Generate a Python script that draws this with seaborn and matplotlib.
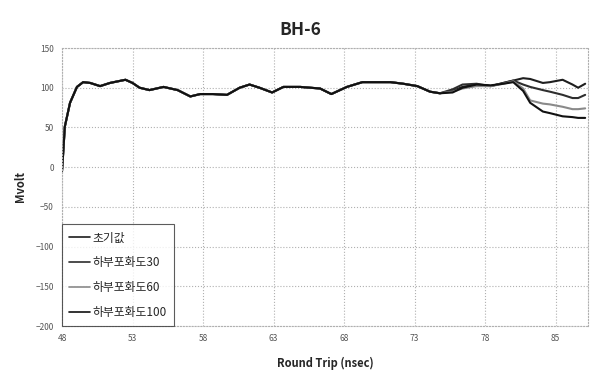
import numpy as np
import pandas as pd
import matplotlib
matplotlib.use("Agg")
import matplotlib.pyplot as plt
import seaborn as sns

# ---- data ----
x_common = [48.0, 48.07, 48.2, 48.57, 49.06, 49.5, 50.0, 50.7, 51.4, 52.5, 53.0, 53.5,
            54.2, 55.2, 56.2, 57.1, 57.8, 58.7, 59.7, 60.6, 61.3, 62.0, 62.9, 63.7,
            64.9, 66.3, 67.1, 68.2, 69.3, 71.3, 72.2, 73.2, 74.1, 74.8, 75.7, 76.4,
            77.4, 78.4, 79.3, 80.0]
y_common = [-5, 14, 51, 81, 101, 107, 106, 102, 106, 110, 106, 100,
            97, 101, 97, 89, 92, 92, 91, 100, 104, 100, 94, 101,
            101, 99, 92, 101, 107, 107, 105, 102, 95, 93, 96, 101,
            104, 102, 106, 109]
x_tail = [80.7, 81.2, 82.1, 82.6, 83.5, 84.2, 84.6, 85.1]
tail_init = [112, 111, 106, 107, 110, 104, 100, 105]
tail_30 = [104, 101, 97, 95, 91, 87, 87, 91]
tail_60 = [99, 84, 80, 79, 76, 73, 73, 74]
tail_100 = [96, 81, 70, 68, 64, 63, 62, 62]

series_names = ["초기값", "하부포화도30", "하부포화도60", "하부포화도100"]
offsets_mid = {"초기값": [0] * len(y_common),
               "하부포화도30": [0] * 34 + [2, 3, 1, 0, 0, 0],
               "하부포화도60": [0] * 34 + [-1, -2, -2, 0, -1, -1],
               "하부포화도100": [0] * 34 + [-2, -1, 0, 1, -1, -2]}
tails = {"초기값": tail_init, "하부포화도30": tail_30,
         "하부포화도60": tail_60, "하부포화도100": tail_100}

xticks = [48, 53, 58, 63, 68, 73, 78, 83]
xtick_labels = ["48", "53", "58", "63", "68", "73", "78", "85"]
yticks = [-200, -150, -100, -50, 0, 50, 100, 150]

rows = []
for name in series_names:
    ys = [a + b for a, b in zip(y_common, offsets_mid[name])] + tails[name]
    for xv, yv in zip(x_common + x_tail, ys):
        rows.append({"x": xv, "y": yv, "series": name})
df = pd.DataFrame(rows)

sns.set_style("white")
plt.rcParams["font.family"] = ["Noto Sans CJK KR", "DejaVu Sans"]

fig = plt.figure(figsize=(5.94, 3.74), dpi=100)
ax = fig.add_axes([62 / 594, 1 - 326 / 374, (588 - 62) / 594, (326 - 48) / 374])

palette = {"초기값": "#1e1e1e", "하부포화도30": "#2e2e2e",
           "하부포화도60": "#8a8a8a", "하부포화도100": "#111111"}
sns.lineplot(data=df, x="x", y="y", hue="series", hue_order=series_names,
             palette=palette, linewidth=1.5, ax=ax, legend=True)

ax.set_xlim(48, 85.3)
ax.set_ylim(-200, 150)
ax.set_xticks(xticks)
ax.set_xticklabels(xtick_labels)
ax.set_yticks(yticks)
ax.tick_params(axis="both", labelsize=6, colors="#555555", length=0, pad=6)
ax.grid(True, which="major", color="#b0b0b0", linestyle=":", linewidth=0.8)
for s in ["top", "right", "left", "bottom"]:
    ax.spines[s].set_visible(True)
    ax.spines[s].set_color("#b0b0b0")
    ax.spines[s].set_linestyle(":")
    ax.spines[s].set_linewidth(0.8)

ax.set_xlabel("Round Trip (nsec)", fontsize=8, fontweight="bold", labelpad=10)
ax.set_ylabel("Mvolt", fontsize=8, fontweight="bold", labelpad=6)
fig.text(0.505, 0.92, "BH-6", ha="center", va="center", fontsize=12.5, fontweight="bold")

leg = ax.legend(loc="lower left", bbox_to_anchor=(0, 0), fontsize=8.5,
                frameon=True, fancybox=False, labelspacing=1.0,
                handlelength=1.8, handletextpad=0.2, borderpad=0.6, borderaxespad=0)
leg.get_frame().set_edgecolor("#333333")
leg.get_frame().set_linewidth(0.8)
for line in leg.get_lines():
    line.set_linewidth(1.2)

fig.savefig("out.png", dpi=100)
